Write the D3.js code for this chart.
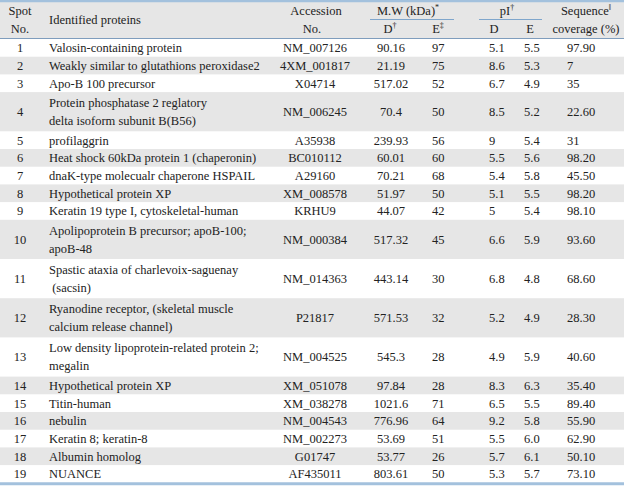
<!DOCTYPE html>
<html>
<head>
<meta charset="utf-8">
<script src="https://cdn.jsdelivr.net/npm/d3@7"></script>
<style>
  body { margin: 0; background: #fff; }
  svg text { font-family: "Liberation Serif", "Times New Roman", Times, serif; fill: #222; }
</style>
</head>
<body>
<svg id="table" width="624" height="488"></svg>
<script>
// table values
var spots = d3.range(1, 20);
var proteins = [
    ["Valosin-containing protein"],
    ["Weakly similar to glutathions peroxidase2"],
    ["Apo-B 100 precursor"],
    ["Protein phosphatase 2 reglatory", "delta isoform subunit B(B56)"],
    ["profilaggrin"],
    ["Heat shock 60kDa protein 1 (chaperonin)"],
    ["dnaK-type molecualr chaperone HSPAIL"],
    ["Hypothetical protein XP"],
    ["Keratin 19 type I, cytoskeletal-human"],
    ["Apolipoprotein B precursor; apoB-100;", "apoB-48"],
    ["Spastic ataxia of charlevoix-saguenay", " (sacsin)"],
    ["Ryanodine receptor, (skeletal muscle", "calcium release channel)"],
    ["Low density lipoprotein-related protein 2;", "megalin"],
    ["Hypothetical protein XP"],
    ["Titin-human"],
    ["nebulin"],
    ["Keratin 8; keratin-8"],
    ["Albumin homolog"],
    ["NUANCE"]
];
var accessions = ["NM_007126", "4XM_001817", "X04714", "NM_006245", "A35938", "BC010112", "A29160",
    "XM_008578", "KRHU9", "NM_000384", "NM_014363", "P21817", "NM_004525", "XM_051078",
    "XM_038278", "NM_004543", "NM_002273", "G01747", "AF435011"];
var mwD = ["90.16", "21.19", "517.02", "70.4", "239.93", "60.01", "70.21", "51.97", "44.07", "517.32",
    "443.14", "571.53", "545.3", "97.84", "1021.6", "776.96", "53.69", "53.77", "803.61"];
var mwE = ["97", "75", "52", "50", "56", "60", "68", "50", "42", "45", "30", "32", "28", "28", "71", "64", "51", "26", "50"];
var piD = ["5.1", "8.6", "6.7", "8.5", "9", "5.5", "5.4", "5.1", "5", "6.6", "6.8", "5.2", "4.9", "8.3", "6.5", "9.2", "5.5", "5.7", "5.3"];
var piE = ["5.5", "5.3", "4.9", "5.2", "5.4", "5.6", "5.8", "5.5", "5.4", "5.9", "4.8", "4.9", "5.9", "6.3", "5.5", "5.8", "6.0", "6.1", "5.7"];
var coverage = ["97.90", "7", "35", "22.60", "31", "98.20", "45.50", "98.20", "98.10", "93.60", "68.60",
    "28.30", "40.60", "35.40", "89.40", "55.90", "62.90", "50.10", "73.10"];

const width = 624;
const headTop = 2, headBottom = 39;
const singleH = 17.7, doubleH = 39.2;
const lineGap = 9;
const fontSize = 12.5;
const grey = '#e6e6e6', rule = '#a3c1dd';

var svg = d3.select('#table');

// row layout: cumulative heights from line counts
var rows = [];
var y = headBottom;
for (var i = 0; i < spots.length; i++) {
    var h = proteins[i].length > 1 ? doubleH : singleH;
    rows.push({ i: i, y0: y, h: h });
    y += h;
}
var tableBottom = y;

// header background
svg.append('rect')
    .attr('x', 0).attr('y', headTop)
    .attr('width', width).attr('height', headBottom - headTop)
    .attr('fill', grey);

// zebra stripes
svg.append('g')
    .selectAll('rect')
    .data(rows.filter(d => d.i % 2 == 1))
    .enter()
    .append('rect')
    .attr('x', 0)
    .attr('y', d => d.y0)
    .attr('width', width)
    .attr('height', d => d.h)
    .attr('fill', grey);

// rules
svg.append('line').attr('x1', 0).attr('x2', width).attr('y1', 1).attr('y2', 1)
    .attr('stroke', rule).attr('stroke-width', 2.5);
svg.append('line').attr('x1', 0).attr('x2', width).attr('y1', headBottom - 0.5).attr('y2', headBottom - 0.5)
    .attr('stroke', '#7f9dbd').attr('stroke-width', 1);
svg.append('line').attr('x1', 0).attr('x2', width).attr('y1', tableBottom + 1).attr('y2', tableBottom + 1)
    .attr('stroke', rule).attr('stroke-width', 3);
// group underlines in header
svg.append('line').attr('x1', 370).attr('x2', 454).attr('y1', 19.5).attr('y2', 19.5)
    .attr('stroke', '#7fa6cc').attr('stroke-width', 1.2);
svg.append('line').attr('x1', 479).attr('x2', 542).attr('y1', 19.5).attr('y2', 19.5)
    .attr('stroke', '#7fa6cc').attr('stroke-width', 1.2);

// header text
function headText(x, yy, txt, sup, anchor) {
    var t = svg.append('text')
        .attr('x', x).attr('y', yy).attr('dy', '0.35em')
        .attr('text-anchor', anchor || 'middle')
        .style('font-size', fontSize + 'px')
        .text(txt);
    if (sup) {
        t.append('tspan')
            .attr('dy', '-0.55em')
            .style('font-size', '8px')
            .text(sup);
    }
    return t;
}
headText(20, 10.5, 'Spot');
headText(20, 28.5, 'No.');
headText(49, 19.5, 'Identified proteins', null, 'start');
headText(316, 10.5, 'Accession');
headText(312, 28.5, 'No.');
headText(408, 10.5, 'M.W (kDa)', '*');
headText(390, 28.5, 'D', '\u2020');
headText(438, 28.5, 'E', '\u2021');
headText(507, 10.5, 'pI', '\u2020');
headText(494, 28.5, 'D');
headText(530, 28.5, 'E');
headText(586, 10.5, 'Sequence', '\u2016');
headText(586, 28.5, 'coverage (%)');

// body cells
var columns = [
    { values: spots, x: 20, anchor: 'middle' },
    { values: accessions, x: 315, anchor: 'middle' },
    { values: mwD, x: 391, anchor: 'middle' },
    { values: mwE, x: 432, anchor: 'start' },
    { values: piD, x: 489, anchor: 'start' },
    { values: piE, x: 524, anchor: 'start' },
    { values: coverage, x: 567, anchor: 'start' }
];

var body = svg.append('g');
columns.forEach(function(col) {
    body.append('g')
        .selectAll('text')
        .data(rows)
        .enter()
        .append('text')
        .attr('x', col.x)
        .attr('y', d => d.y0 + d.h / 2)
        .attr('dy', '0.35em')
        .attr('text-anchor', col.anchor)
        .style('font-size', fontSize + 'px')
        .text(d => col.values[d.i]);
});

// protein names, one or two lines
body.append('g')
    .selectAll('g')
    .data(rows)
    .enter()
    .append('g')
    .each(function(d) {
        var lines = proteins[d.i];
        var mid = d.y0 + d.h / 2;
        d3.select(this).selectAll('text')
            .data(lines)
            .enter()
            .append('text')
            .attr('x', 49)
            .attr('y', (l, k) => lines.length > 1 ? mid + (k == 0 ? -lineGap : lineGap) : mid)
            .attr('dy', '0.35em')
            .style('white-space', 'pre')
            .style('font-size', fontSize + 'px')
            .text(l => l);
    });
</script>
</body>
</html>
